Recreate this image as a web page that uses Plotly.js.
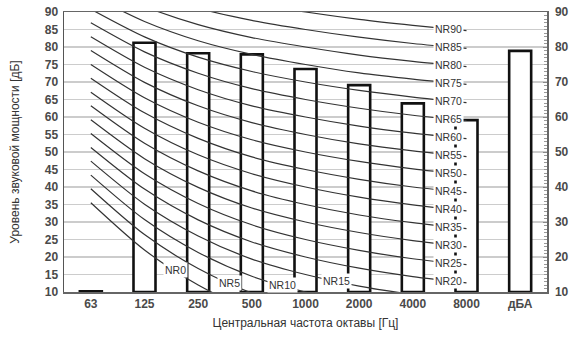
<!DOCTYPE html>
<html>
<head>
<meta charset="utf-8">
<script src="https://cdn.plot.ly/plotly-3.0.1.min.js"></script>
<style>html,body{margin:0;padding:0;background:#fff;}#chart{width:581px;height:338px;}</style>
</head>
<body>
<div id="chart"></div>
<script>
// Octave band categories and the A-weighted total
const bands = ['63', '125', '250', '500', '1000', '2000', '4000', '8000'];
const categories = ['63', '125', '250', '500', '1000', '2000', '4000', '8000', 'дБА'];
// Sound power levels (dB) per category
const barValues = [10.2, 81.2, 78.2, 77.9, 73.7, 69.1, 63.9, 59.1, 78.9];
const barBase = 10;

// NR curves (dB per octave band 63..8000)
const NR0  = [35.5, 22.0, 12.0, 4.8, 0.0, -3.5, -6.1, -8.0];
const NR5  = [39.5, 26.4, 16.7, 9.7, 5.0, 1.6, -1.0, -2.9];
const NR10 = [43.4, 30.7, 21.3, 14.5, 10.0, 6.7, 4.2, 2.3];
const NR15 = [47.4, 35.1, 26.0, 19.4, 15.0, 11.7, 9.3, 7.5];
const NR20 = [51.3, 39.4, 30.6, 24.3, 20.0, 16.8, 14.4, 12.6];
const NR25 = [55.3, 43.8, 35.3, 29.2, 25.0, 21.9, 19.5, 17.8];
const NR30 = [59.2, 48.1, 39.9, 34.0, 30.0, 27.0, 24.7, 22.9];
const NR35 = [63.2, 52.5, 44.6, 38.9, 35.0, 32.0, 29.8, 28.1];
const NR40 = [67.1, 56.8, 49.2, 43.8, 40.0, 37.1, 34.9, 33.2];
const NR45 = [71.1, 61.2, 53.9, 48.6, 45.0, 42.2, 40.0, 38.4];
const NR50 = [75.0, 65.5, 58.5, 53.5, 50.0, 47.3, 45.2, 43.5];
const NR55 = [79.0, 69.9, 63.2, 58.4, 55.0, 52.3, 50.3, 48.7];
const NR60 = [82.9, 74.2, 67.8, 63.2, 60.0, 57.4, 55.4, 53.8];
const NR65 = [86.9, 78.6, 72.5, 68.1, 65.0, 62.5, 60.5, 59.0];
const NR70 = [90.8, 82.9, 77.1, 73.0, 70.0, 67.6, 65.7, 64.1];
const NR75 = [94.8, 87.3, 81.8, 77.9, 75.0, 72.6, 70.8, 69.3];
const NR80 = [98.7, 91.6, 86.4, 82.7, 80.0, 77.7, 75.9, 74.4];
const NR85 = [102.7, 96.0, 91.1, 87.6, 85.0, 82.8, 81.0, 79.6];
const NR90 = [106.6, 100.3, 95.7, 92.5, 90.0, 87.9, 86.2, 84.7];
const nrNames = ['NR0','NR5','NR10','NR15','NR20','NR25','NR30','NR35','NR40','NR45','NR50','NR55','NR60','NR65','NR70','NR75','NR80','NR85','NR90'];
const nrCurves = [NR0, NR5, NR10, NR15, NR20, NR25, NR30, NR35, NR40, NR45, NR50, NR55, NR60, NR65, NR70, NR75, NR80, NR85, NR90];

const traces = [];
traces.push({
  type: 'bar', x: categories, y: barValues.map(v => v - barBase), base: barBase,
  width: 0.41, marker: {color: '#ffffff', line: {color: '#111111', width: 2.6}},
  hoverinfo: 'skip', showlegend: false
});
nrCurves.forEach((c, i) => {
  traces.push({
    type: 'scatter', mode: 'lines', x: bands, y: c,
    line: {color: '#333333', width: 1.2, shape: 'spline', smoothing: 0.8},
    hoverinfo: 'skip', showlegend: false, cliponaxis: true
  });
});
// invisible trace so the right axis is drawn
traces.push({type: 'scatter', mode: 'lines', x: ['63'], y: [50], yaxis: 'y2', line: {width: 0}, hoverinfo: 'skip', showlegend: false});

// label positions: interpolated on each curve
function lerp(c, idx) { const k = Math.floor(idx); const f = idx - k; return c[k] + (c[k + 1] - c[k]) * f; }
const annotations = nrCurves.map((c, i) => {
  const idx = i < 4 ? (1 + i + 0.58) : 6.66;
  return {
    x: idx, y: lerp(c, idx), xref: 'x', yref: 'y', text: nrNames[i], showarrow: false,
    bgcolor: '#ffffff', borderpad: 1, font: {family: 'Arial, Liberation Sans, sans-serif', size: 10.5, color: '#333'},
    xanchor: 'center', yanchor: 'middle'
  };
});

const tickFont = {family: 'Arial, Liberation Sans, sans-serif', size: 12, color: '#4a4a4a', weight: 'bold'};
const layout = {
  width: 581, height: 338,
  margin: {l: 64, r: 34, t: 12, b: 46},
  paper_bgcolor: '#ffffff', plot_bgcolor: '#ffffff',
  showlegend: false,
  xaxis: {
    type: 'category', categoryorder: 'array', categoryarray: categories,
    range: [-0.5, 8.5], showgrid: false, zeroline: false,
    showline: true, linecolor: '#666', linewidth: 1.5, mirror: true,
    ticks: '', tickfont: tickFont,
    title: {text: 'Центральная частота октавы [Гц]', font: {family: 'Arial, Liberation Sans, sans-serif', size: 12, color: '#333'}, standoff: 8}
  },
  yaxis: {
    range: [10, 90], dtick: 5, tick0: 10, showgrid: true, gridcolor: '#cccccc', gridwidth: 1.2,
    zeroline: false, showline: true, linecolor: '#555', linewidth: 1.5,
    ticks: '', tickfont: tickFont, ticklabelstandoff: 2,
    title: {text: 'Уровень звуковой мощности [дБ]', font: {family: 'Arial, Liberation Sans, sans-serif', size: 12, color: '#333'}, standoff: 22}
  },
  yaxis2: {
    overlaying: 'y', side: 'right', range: [10, 90], dtick: 10, tick0: 10,
    showgrid: false, zeroline: false, showline: true, linecolor: '#666', linewidth: 1.5,
    ticks: 'inside', ticklen: 4, tickcolor: '#888', tickfont: tickFont, ticklabelstandoff: 4,
    minor: {dtick: 1, ticks: 'inside', ticklen: 3, tickcolor: '#999'}
  },
  annotations: annotations
};
Plotly.newPlot('chart', traces, layout, {staticPlot: true, displayModeBar: false});
</script>
</body>
</html>
